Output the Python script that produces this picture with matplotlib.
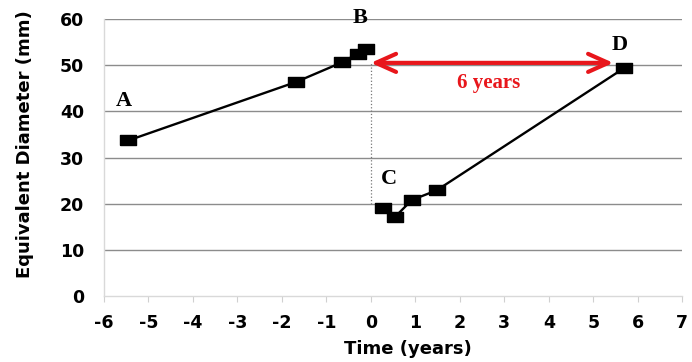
import numpy as np
import matplotlib
matplotlib.use('Agg')
import matplotlib.pyplot as plt

# growth before and after the event (time in years, diameter in mm)
t_before = [-5.45, -1.67, -0.65, -0.29, -0.11]
d_before = [33.7, 46.4, 50.6, 52.5, 53.5]
t_after = [0.27, 0.54, 0.92, 1.48, 5.68]
d_after = [19.0, 17.1, 20.8, 22.9, 49.3]

point_labels = ['A', 'B', 'C', 'D']
label_x = [-5.55, -0.25, 0.4, 5.6]
label_y = [42.3, 60.3, 25.4, 54.3]

span_start, span_end, span_y = 0.0, 5.45, 50.5
span_text = '6 years'

xticks = list(range(-6, 8))
yticks = list(range(0, 61, 10))

fig = plt.figure(figsize=(6.92, 3.62), dpi=100)
ax = fig.add_axes([0.150, 0.182, 0.836, 0.7655])

for y in yticks[1:]:
    ax.axhline(y, color='#8c8c8c', lw=1.0, zorder=0)

rect = [(-1.45, -1), (1.45, -1), (1.45, 1), (-1.45, 1), (-1.45, -1)]
ax.plot(t_before, d_before, color='black', lw=1.7, marker=rect, ms=11, zorder=3)
ax.plot(t_after, d_after, color='black', lw=1.7, marker=rect, ms=11, zorder=3)

# dotted drop line at t=0
ax.plot([span_start, span_start], [20, span_y], color='#777777', lw=0.9, ls=':', zorder=2)

ax.annotate('', xy=(span_end, span_y), xytext=(span_start, span_y),
            arrowprops=dict(arrowstyle='<->,head_length=1.45,head_width=0.65',
                            color='#e8161b', lw=3.0, shrinkA=0, shrinkB=0), zorder=4)
ax.text(2.64, 46.2, span_text, color='#e8161b',
        fontfamily='Liberation Serif', fontweight='bold', fontsize=15,
        ha='center', va='center')

for lab, x, y in zip(point_labels, label_x, label_y):
    ax.text(x, y, lab, fontfamily='Liberation Serif', fontweight='bold',
            fontsize=16, ha='center', va='center')

ax.set_xlim(-6, 7)
ax.set_ylim(0, 60)
ax.set_xticks(xticks)
ax.set_yticks(yticks)
ax.set_xticklabels([str(v) for v in xticks], fontweight='bold', fontsize=12.5)
ax.set_yticklabels([str(v) for v in yticks], fontweight='bold', fontsize=12.5)
ax.tick_params(axis='x', length=4, color='#d0d0d0', pad=9)
ax.tick_params(axis='y', length=0, pad=14)

for s in ['top', 'right']:
    ax.spines[s].set_visible(False)
for s in ['left', 'bottom']:
    ax.spines[s].set_color('#d9d9d9')
    ax.spines[s].set_linewidth(1.0)

ax.set_ylabel('Equivalent Diameter (mm)', fontsize=13, fontweight='bold')
ax.yaxis.set_label_coords(-0.12, 0.55)
ax.set_xlabel('Time (years)', fontsize=13, fontweight='bold')
ax.xaxis.set_label_coords(0.525, -0.16)

fig.savefig('out.png', dpi=100)
